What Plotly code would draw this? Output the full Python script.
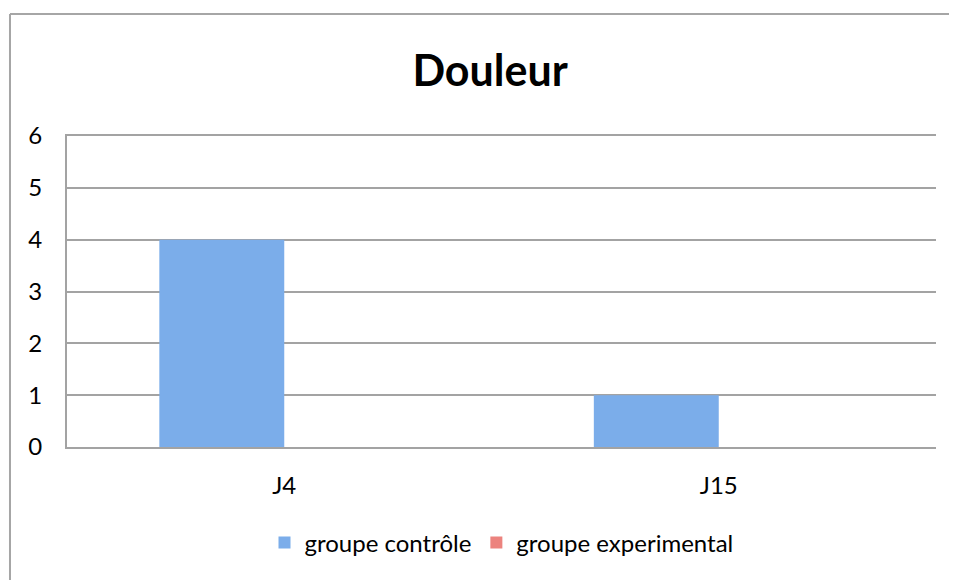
import plotly.graph_objects as go

# data
categories = ["J4", "J15"]
controle = [4, 1]
experimental = [0, 0]
series_names = ["groupe contrôle", "groupe experimental"]
y_ticks = [0, 1, 2, 3, 4, 5, 6]

FONT = "Lato, Carlito, Calibri, sans-serif"
GRID = "#a3a3a3"
BORDER = "#a6a6a6"

fig = go.Figure()
fig.add_trace(
    go.Bar(
        x=categories,
        y=controle,
        name=series_names[0],
        marker=dict(color="#7badea", line=dict(width=0)),
    )
)
fig.add_trace(
    go.Bar(
        x=categories,
        y=experimental,
        name=series_names[1],
        marker=dict(color="#ec837e", line=dict(width=0)),
    )
)

# outer chart border: only top and left edges are visible in the reference
fig.add_shape(
    type="line", xref="paper", yref="paper",
    x0=-0.0656, x1=1.1, y0=1.392, y1=1.392,
    line=dict(color=BORDER, width=2), layer="below",
)
fig.add_shape(
    type="line", xref="paper", yref="paper",
    x0=-0.0656, x1=-0.0656, y0=-0.6, y1=1.392,
    line=dict(color=BORDER, width=2), layer="below",
)

# the page body adds an 8px margin, so the plot area is shifted back by 8px
fig.update_layout(
    width=949,
    height=572,
    title=dict(
        text="<b>Douleur</b>",
        x=0.508,
        xanchor="center",
        y=1 - 63 / 572,
        yanchor="middle",
        font=dict(family=FONT, size=43, color="black"),
    ),
    barmode="group",
    bargap=0.425,
    bargroupgap=0,
    plot_bgcolor="white",
    paper_bgcolor="white",
    font=dict(family=FONT, size=24, color="black"),
    margin=dict(l=59, r=21, t=128, b=133),
    xaxis=dict(
        showgrid=False,
        showline=True,
        mirror=True,
        linecolor=GRID,
        linewidth=2,
        ticks="",
        ticklabelstandoff=16,
        tickfont=dict(family=FONT, size=24),
    ),
    yaxis=dict(
        range=[0, 6],
        tickvals=y_ticks,
        showgrid=True,
        gridcolor=GRID,
        gridwidth=2,
        showline=True,
        linecolor=GRID,
        linewidth=2,
        zeroline=False,
        ticks="",
        ticklabelstandoff=18,
        tickfont=dict(family=FONT, size=24),
    ),
    legend=dict(
        orientation="h",
        x=0.5,
        xanchor="center",
        y=(447 - 543) / 311,
        yanchor="middle",
        font=dict(family=FONT, size=24),
        itemsizing="constant",
    ),
    showlegend=True,
)

fig.write_html("out.html")
